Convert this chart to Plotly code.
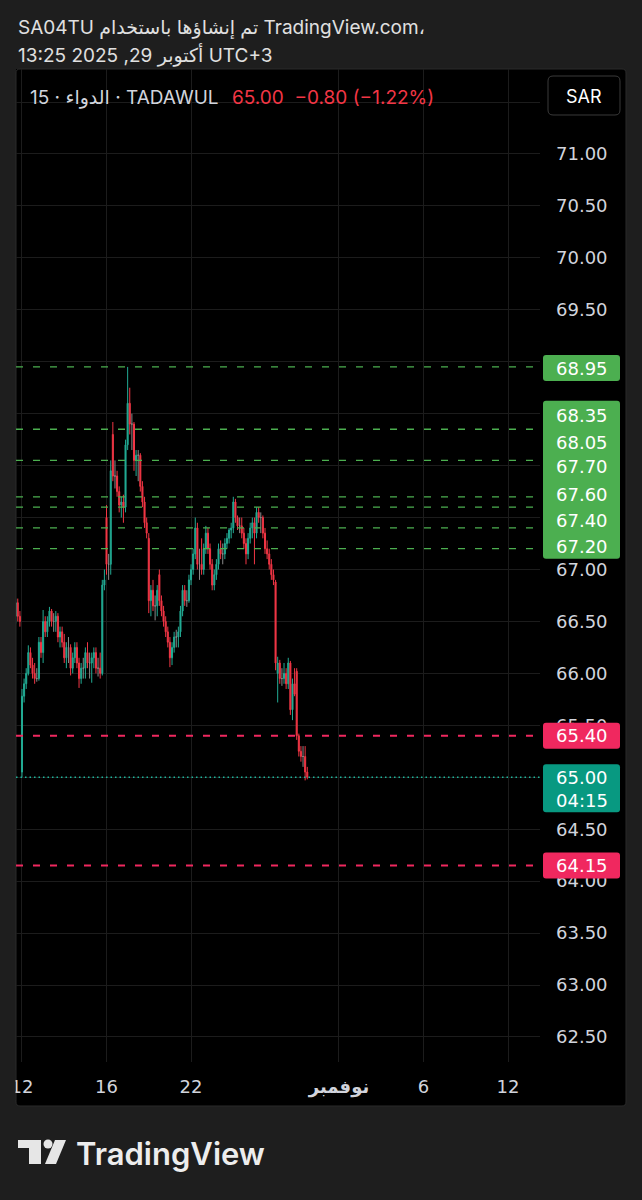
import plotly.graph_objects as go

# ---------------- data ----------------
session_days = ["2025-10-09", "2025-10-12", "2025-10-13", "2025-10-14", "2025-10-15",
                "2025-10-16", "2025-10-19", "2025-10-20", "2025-10-21", "2025-10-22",
                "2025-10-23", "2025-10-26", "2025-10-27", "2025-10-28", "2025-10-29"]
slot_times = ["10:00", "10:30", "11:00", "11:30", "12:00", "12:30", "13:00", "13:30", "14:00", "14:30"]
session_first_slot = [7, 0, 0, 0, 0, 0, 0, 0, 0, 0, 0, 0, 0, 0, 0]
session_bar_count = [3, 10, 10, 10, 10, 10, 10, 10, 10, 10, 10, 10, 10, 10, 6]

opens = [
    66.55, 66.68, 66.55,
    65.05, 65.78, 65.90, 66.00, 66.20, 66.08, 66.00, 65.95, 65.95, 66.30,
    66.20, 66.50, 66.40, 66.50, 66.60, 66.50, 66.50, 66.55, 66.35, 66.40,
    66.30, 66.15, 66.25, 66.25, 66.05, 66.15, 66.25, 66.10, 65.95, 66.05,
    66.05, 66.20, 66.10, 66.10, 66.15, 66.20, 66.05, 66.05, 66.00, 66.85,
    67.50, 67.05, 67.05, 68.30, 67.90, 67.90, 67.75, 67.62, 67.65, 67.60,
    68.20, 68.60, 68.40, 68.40, 68.05, 68.10, 68.10, 67.80, 67.65, 67.45,
    67.30, 66.70, 66.80, 66.65, 66.65, 66.95, 66.70, 66.60, 66.50, 66.40,
    66.30, 66.15, 66.25, 66.35, 66.35, 66.40, 66.60, 66.80, 66.70, 66.70,
    66.90, 67.00, 67.15, 67.40, 67.05, 67.05, 67.00, 67.20, 67.35, 67.20,
    67.05, 66.85, 66.95, 67.05, 67.20, 67.15, 67.15, 67.25, 67.30, 67.38,
    67.40, 67.65, 67.50, 67.42, 67.42, 67.35, 67.25, 67.15, 67.30, 67.40,
    67.45, 67.35, 67.55, 67.50, 67.50, 67.35, 67.20, 67.15, 67.05, 66.95,
    66.88, 66.00, 66.10, 65.95, 65.95, 66.00, 65.90, 66.10, 65.65, 65.90,
    66.02, 65.40, 65.25, 65.20, 65.20, 65.05,
]
highs = [
    66.72, 66.72, 66.60,
    65.85, 65.95, 66.05, 66.27, 66.25, 66.15, 66.10, 66.05, 66.35, 66.35,
    66.61, 66.55, 66.55, 66.64, 66.62, 66.58, 66.60, 66.58, 66.45, 66.45,
    66.38, 66.30, 66.35, 66.28, 66.20, 66.30, 66.30, 66.15, 66.10, 66.15,
    66.25, 66.30, 66.20, 66.20, 66.25, 66.25, 66.15, 66.20, 66.90, 67.00,
    67.62, 67.15, 68.05, 68.42, 68.05, 67.95, 67.80, 67.70, 67.72, 68.25,
    68.95, 68.75, 68.50, 68.42, 68.15, 68.15, 68.12, 67.85, 67.70, 67.50,
    67.35, 66.85, 66.90, 66.75, 66.85, 67.00, 66.75, 66.65, 66.55, 66.45,
    66.35, 66.30, 66.40, 66.42, 66.45, 66.65, 66.85, 66.85, 66.80, 66.95,
    67.05, 67.20, 67.50, 67.45, 67.20, 67.30, 67.25, 67.42, 67.40, 67.25,
    67.10, 67.00, 67.10, 67.25, 67.28, 67.25, 67.30, 67.35, 67.40, 67.45,
    67.70, 67.68, 67.52, 67.50, 67.50, 67.40, 67.30, 67.35, 67.45, 67.50,
    67.50, 67.60, 67.60, 67.55, 67.52, 67.40, 67.28, 67.20, 67.10, 67.00,
    66.90, 66.16, 66.13, 66.05, 66.10, 66.05, 66.15, 66.12, 65.95, 66.05,
    66.05, 65.42, 65.30, 65.30, 65.30, 65.10,
]
lows = [
    66.48, 66.50, 66.45,
    65.00, 65.72, 65.85, 65.98, 66.05, 65.95, 65.90, 65.92, 65.93, 66.15,
    66.10, 66.35, 66.35, 66.45, 66.45, 66.40, 66.40, 66.30, 66.25, 66.25,
    66.10, 66.05, 66.10, 65.98, 66.00, 66.10, 66.05, 65.86, 65.90, 65.95,
    65.95, 66.05, 65.95, 65.91, 66.05, 66.00, 65.97, 65.95, 65.98, 66.80,
    66.95, 66.90, 66.95, 67.85, 67.78, 67.70, 67.55, 67.50, 67.45, 67.55,
    68.15, 68.30, 68.15, 67.95, 67.90, 67.85, 67.75, 67.60, 67.40, 67.30,
    66.58, 66.55, 66.60, 66.51, 66.55, 66.65, 66.55, 66.45, 66.35, 66.25,
    66.06, 66.08, 66.20, 66.25, 66.25, 66.35, 66.55, 66.65, 66.64, 66.68,
    66.85, 66.95, 67.10, 67.00, 66.90, 66.95, 66.95, 67.15, 67.15, 67.00,
    66.80, 66.80, 66.90, 67.00, 67.10, 67.05, 67.10, 67.20, 67.25, 67.30,
    67.35, 67.45, 67.38, 67.35, 67.30, 67.20, 67.05, 67.10, 67.25, 67.30,
    67.05, 67.30, 67.45, 67.35, 67.30, 67.15, 67.10, 67.00, 66.90, 66.85,
    66.03, 65.72, 65.90, 65.88, 65.90, 65.85, 65.85, 65.60, 65.55, 65.78,
    65.36, 65.20, 65.15, 65.10, 64.97, 64.98,
]
closes = [
    66.68, 66.55, 66.50,
    65.78, 65.90, 66.00, 66.20, 66.08, 66.00, 65.95, 65.95, 66.30, 66.20,
    66.50, 66.40, 66.50, 66.60, 66.50, 66.50, 66.55, 66.35, 66.40, 66.30,
    66.15, 66.25, 66.25, 66.05, 66.15, 66.25, 66.10, 65.95, 66.05, 66.05,
    66.20, 66.10, 66.10, 66.15, 66.20, 66.05, 66.05, 66.00, 66.85, 66.90,
    67.05, 67.05, 67.95, 67.90, 67.90, 67.75, 67.62, 67.65, 67.60, 68.20,
    68.60, 68.40, 68.40, 68.05, 68.10, 68.10, 67.80, 67.65, 67.45, 67.35,
    66.70, 66.80, 66.65, 66.65, 66.80, 66.70, 66.60, 66.50, 66.40, 66.30,
    66.15, 66.25, 66.35, 66.35, 66.40, 66.60, 66.80, 66.70, 66.70, 66.90,
    67.00, 67.15, 67.40, 67.05, 67.05, 67.00, 67.20, 67.35, 67.20, 67.05,
    66.85, 66.95, 67.05, 67.20, 67.15, 67.15, 67.25, 67.30, 67.38, 67.40,
    67.65, 67.50, 67.42, 67.42, 67.35, 67.25, 67.15, 67.30, 67.40, 67.45,
    67.35, 67.55, 67.50, 67.50, 67.35, 67.20, 67.15, 67.05, 66.95, 66.90,
    66.10, 66.10, 65.95, 65.95, 66.00, 65.90, 66.10, 65.65, 65.90, 65.80,
    65.40, 65.25, 65.20, 65.20, 65.05, 65.00,
]

green_levels = [68.95, 68.35, 68.05, 67.70, 67.60, 67.40, 67.20]
red_levels = [65.40, 64.15]
last_price = 65.00
countdown = "04:15"

price_ticks = [62.5, 63.0, 63.5, 64.0, 64.5, 65.0, 65.5, 66.0, 66.5, 67.0,
               67.5, 68.0, 68.5, 69.0, 69.5, 70.0, 70.5, 71.0, 71.5]
hidden_tick_labels = [71.5, 68.5, 68.0, 67.5, 65.0]   # covered by label boxes
x_tick_dates = ["2025-10-12 10:00", "2025-10-16 10:00", "2025-10-22 10:00",
                "2025-11-02 10:00", "2025-11-06 10:00", "2025-11-12 10:00"]
x_tick_text = ["12", "16", "22", "<b>نوفمبر</b>", "6", "12"]
x_range = ["2025-10-09 13:35", "2025-11-13 12:34"]
y_range = [62.259, 71.818]

header_line1 = "SA04TU تم إنشاؤها باستخدام TradingView.com،"
header_line2 = "13:25 2025 ,29 أكتوبر UTC+3"
legend_left = "15 · الدواء · TADAWUL"
legend_right = "65.00\u00a0\u00a0−0.80 (−1.22%)"
currency = "SAR"
brand = "TradingView"

# ---------------- styling ----------------
UP = "#22ab94"
DOWN = "#f23645"
FLAT = "#8a8a8a"
GREEN = "#4caf50"
PINK = "#f0285f"
TEAL = "#089981"
BG = "#1e1e1e"
TXT = "#d1d4dc"
FONT = "Inter, 'DejaVu Sans', sans-serif"
NUMFONT = "'DejaVu Sans', sans-serif"

W, H = 642, 1200
PL, PR, PT, PB = 16, 540, 69, 1062


def fx(px):
    return (px - PL) / (PR - PL)


def fy(py):
    return (PB - py) / (PB - PT)


def rr_path(x0, y0, x1, y1, r, conv_x=lambda v: v, conv_y=lambda v: v):
    pts = []
    cmds = [("M", x0 + r, y0), ("L", x1 - r, y0), ("Q", x1, y0, x1, y0 + r),
            ("L", x1, y1 - r), ("Q", x1, y1, x1 - r, y1), ("L", x0 + r, y1),
            ("Q", x0, y1, x0, y1 - r), ("L", x0, y0 + r), ("Q", x0, y0, x0 + r, y0)]
    for c in cmds:
        if c[0] == "Q":
            pts.append(f"Q{conv_x(c[1]):.5f},{conv_y(c[2]):.5f} {conv_x(c[3]):.5f},{conv_y(c[4]):.5f}")
        else:
            pts.append(f"{c[0]}{conv_x(c[1]):.5f},{conv_y(c[2]):.5f}")
    return " ".join(pts) + " Z"


# ---------------- build bar times ----------------
bar_times = []
for day, first, count in zip(session_days, session_first_slot, session_bar_count):
    for t in slot_times[first:first + count]:
        bar_times.append(f"{day} {t}")

fig = go.Figure()


def add_candles(mask, color):
    idx = [i for i in range(len(opens)) if mask(i)]
    fig.add_trace(go.Candlestick(
        x=[bar_times[i] for i in idx],
        open=[opens[i] for i in idx], high=[highs[i] for i in idx],
        low=[lows[i] for i in idx], close=[closes[i] for i in idx],
        increasing=dict(line=dict(color=color, width=1), fillcolor=color),
        decreasing=dict(line=dict(color=color, width=1), fillcolor=color),
        whiskerwidth=0, hoverinfo="skip", showlegend=False))


add_candles(lambda i: closes[i] > opens[i], UP)
add_candles(lambda i: closes[i] < opens[i], DOWN)
add_candles(lambda i: closes[i] == opens[i], FLAT)

shapes = []
# chart panel
shapes.append(dict(type="path", xref="paper", yref="paper", layer="below",
                   path=rr_path(16, 69, 626, 1106, 4, fx, fy),
                   fillcolor="#000000", line=dict(color="#2a2a2a", width=1)))
# level lines
for lv in green_levels:
    shapes.append(dict(type="line", xref="paper", yref="y", x0=0, x1=1, y0=lv, y1=lv,
                       layer="above", line=dict(color=GREEN, width=1.3, dash="7px,10px")))
for lv in red_levels:
    shapes.append(dict(type="line", xref="paper", yref="y", x0=0, x1=1, y0=lv, y1=lv,
                       layer="above", line=dict(color=PINK, width=2, dash="7px,10px")))
shapes.append(dict(type="line", xref="paper", yref="y", x0=0, x1=1, y0=last_price, y1=last_price,
                   layer="above", line=dict(color="#1fb59c", width=1.3, dash="1.5px,3px")))


def label_box(level, y0, y1, color):
    return dict(type="path", xref="paper", xsizemode="pixel", xanchor=1,
                yref="y", ysizemode="pixel", yanchor=level, layer="above",
                path=rr_path(3, y0, 80, y1, 3), fillcolor=color, line=dict(width=0))


shapes.append(label_box(green_levels[0], -14, 12, GREEN))
shapes.append(label_box(green_levels[3], -62, 96, GREEN))
for lv in red_levels:
    shapes.append(label_box(lv, -13, 13, PINK))
shapes.append(label_box(last_price, -35, 13, TEAL))

# SAR box
shapes.append(dict(type="path", xref="paper", yref="paper", layer="above",
                   path=rr_path(548, 76, 620, 115, 5, fx, fy),
                   fillcolor="#000000", line=dict(color="#3a3a3a", width=1)))
# cover clipped tick label at the panel's left edge
shapes.append(dict(type="rect", xref="paper", yref="paper", layer="above",
                   x0=fx(0), x1=fx(15.5), y0=fy(1100), y1=fy(1070),
                   fillcolor=BG, line=dict(width=0)))
# TradingView logo icon
ICON = "#e6e6e6"
shapes.append(dict(type="path", xref="paper", yref="paper", layer="above",
                   path=" ".join([f"{'M' if k == 0 else 'L'}{fx(a):.5f},{fy(b):.5f}" for k, (a, b) in enumerate(
                       [(18, 1140), (41, 1140), (41, 1164), (29, 1164), (29, 1148), (18, 1148)])]) + " Z",
                   fillcolor=ICON, line=dict(width=0)))
shapes.append(dict(type="circle", xref="paper", yref="paper", layer="above",
                   x0=fx(43.5), x1=fx(52.5), y0=fy(1148.5), y1=fy(1139.5),
                   fillcolor=ICON, line=dict(width=0)))
shapes.append(dict(type="path", xref="paper", yref="paper", layer="above",
                   path=" ".join([f"{'M' if k == 0 else 'L'}{fx(a):.5f},{fy(b):.5f}" for k, (a, b) in enumerate(
                       [(55, 1140), (66, 1140), (56, 1164), (45, 1164)])]) + " Z",
                   fillcolor=ICON, line=dict(width=0)))

annotations = []


def ann(text, px, py, size=19, color=TXT, xanchor="left", weight=None, family=FONT):
    f = dict(family=family, size=size, color=color)
    if weight:
        f["weight"] = weight
    annotations.append(dict(text=text, x=fx(px), y=fy(py), xref="paper", yref="paper",
                            xanchor=xanchor, yanchor="middle", showarrow=False, font=f))


ann(header_line1, 16, 28, color="#e0e0e0")
ann(header_line2, 16, 55, color="#e0e0e0")
ann(legend_left, 28, 97)
ann(legend_right, 230, 97, color=DOWN)
ann(currency, 584, 96, size=18, color="#ffffff", xanchor="center")
ann(brand, 74, 1153, size=31, color="#ededed", weight=600)


def level_label(text, level, shift=0):
    annotations.append(dict(text=text, xref="paper", x=1, xshift=41.5, yref="y", y=level,
                            yshift=shift, xanchor="center", yanchor="middle", showarrow=False,
                            font=dict(family=NUMFONT, size=18, color="#ffffff")))


# level labels (anchored to the level value, shifted in pixels where stacked)
green_label_shift = [-2, 14, 18, 30, 13, 7, 2]
for lv, sh in zip(green_levels, green_label_shift):
    level_label(f"{lv:.2f}", lv, sh)
for lv in red_levels:
    level_label(f"{lv:.2f}", lv)
level_label(f"{last_price:.2f}", last_price)
level_label(countdown, last_price, -23)

fig.update_layout(
    width=W, height=H,
    margin=dict(l=PL, r=W - PR, t=PT, b=H - PB, pad=0),
    paper_bgcolor=BG, plot_bgcolor="#000000",
    showlegend=False,
    shapes=shapes, annotations=annotations,
    font=dict(family=FONT, size=18, color=TXT),
    xaxis=dict(type="date", range=x_range, rangeslider=dict(visible=False),
               rangebreaks=[dict(bounds=["fri", "sun"]), dict(bounds=[15, 10], pattern="hour")],
               tickmode="array", tickvals=x_tick_dates, ticktext=x_tick_text,
               showgrid=True, gridcolor="#1c1c1c", gridwidth=1, zeroline=False, showline=False,
               ticks="", ticklabelstandoff=12, tickfont=dict(family=NUMFONT, size=18, color=TXT),
               fixedrange=True),
    yaxis=dict(range=y_range, side="right", tickmode="array", tickvals=price_ticks,
               ticktext=["" if v in hidden_tick_labels else f"{v:.2f}" for v in price_ticks],
               showgrid=True, gridcolor="#1c1c1c", gridwidth=1, zeroline=False, showline=False,
               ticks="", ticklabelstandoff=15, tickfont=dict(family=NUMFONT, size=18, color=TXT),
               fixedrange=True),
)

fig.write_html("out.html", config={"displayModeBar": False},
               post_script="document.body.style.margin='0';document.body.style.background='#1e1e1e';")
